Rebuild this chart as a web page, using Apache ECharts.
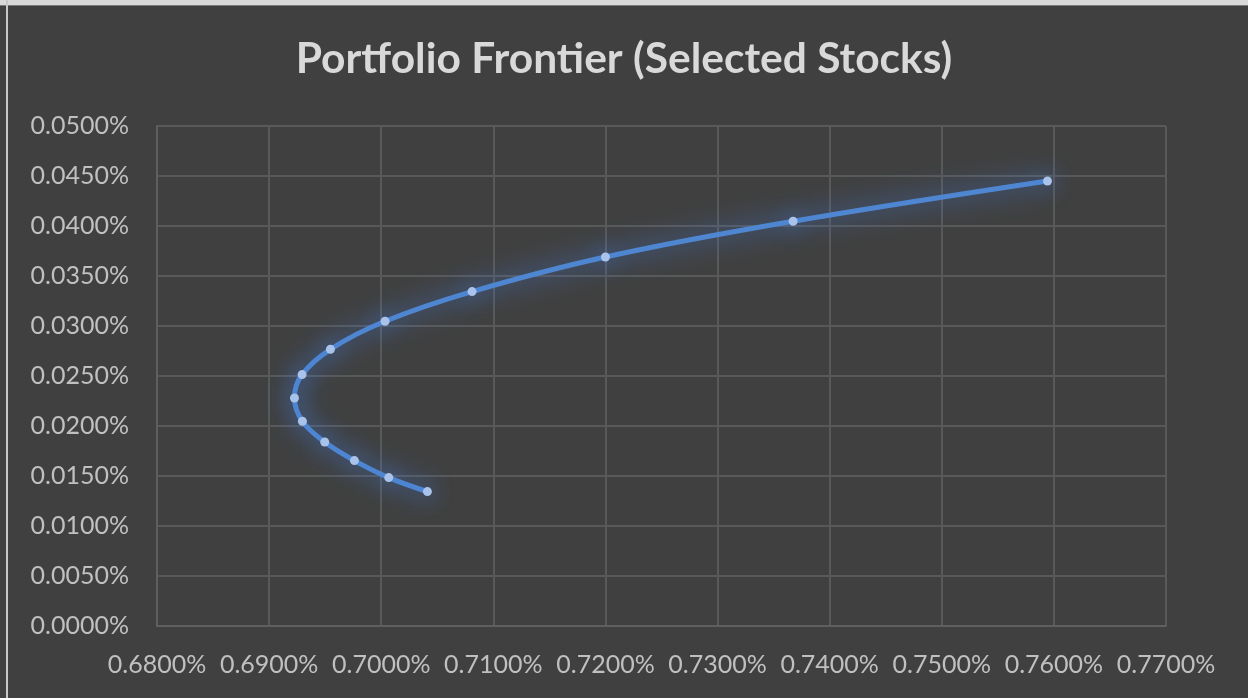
<!DOCTYPE html>
<html>
<head>
<meta charset="utf-8">
<script src="https://cdn.jsdelivr.net/npm/echarts@6/dist/echarts.min.js"></script>
<style>
  html, body { margin: 0; padding: 0; background: #404040; }
  #chart { position: absolute; left: 0; top: 0; width: 1248px; height: 698px; }
  #topStrip { position: absolute; left: 0; top: 0; width: 1248px; height: 5px; background: #d9d9d9; border-bottom: 1px solid #7a7a7a; z-index: 2; }
  #leftStrip { position: absolute; left: 6px; top: 0; width: 2px; height: 698px; background: #c8c8c8; z-index: 2; }
</style>
</head>
<body>
<div id="chart"></div>
<div id="topStrip"></div>
<div id="leftStrip"></div>
<script>
// Portfolio risk (std dev, %) and expected return (%)
const risk = [0.70412, 0.70067, 0.69761, 0.69496, 0.69297, 0.69226, 0.69294, 0.69547, 0.70034, 0.70810, 0.72000, 0.73674, 0.75943];
const ret  = [0.01344, 0.01484, 0.01654, 0.01840, 0.02047, 0.02280, 0.02514, 0.02767, 0.03047, 0.03344, 0.03690, 0.04047, 0.04450];
const title = 'Portfolio Frontier (Selected Stocks)';
const xMin = 0.68, xMax = 0.77, xStep = 0.01;
const yMin = 0, yMax = 0.05, yStep = 0.005;

const points = risk.map((r, i) => [r, ret[i]]);
const chart = echarts.init(document.getElementById('chart'), null, { renderer: 'canvas' });
const labelFont = { color: '#c0c0c0', fontSize: 25, fontFamily: 'Lato, "Open Sans", sans-serif' };
chart.setOption({
  backgroundColor: '#404040',
  animation: false,
  title: {
    text: title,
    left: 'center',
    top: 33,
    textStyle: { color: '#d9d9d9', fontSize: 42.5, fontWeight: 'bold', fontFamily: 'Lato, "Open Sans", sans-serif' }
  },
  grid: { left: 157, right: 82, top: 126, bottom: 72, containLabel: false },
  xAxis: {
    type: 'value', min: xMin, max: xMax, interval: xStep,
    axisLine: { show: true, lineStyle: { color: '#5f5f5f', width: 2 } },
    axisTick: { show: false },
    splitLine: { show: true, lineStyle: { color: '#595959', width: 2 } },
    axisLabel: Object.assign({ margin: 26, formatter: v => v.toFixed(4) + '%' }, labelFont)
  },
  yAxis: {
    type: 'value', min: yMin, max: yMax, interval: yStep,
    axisLine: { show: true, lineStyle: { color: '#5f5f5f', width: 2 } },
    axisTick: { show: false },
    splitLine: { show: true, lineStyle: { color: '#595959', width: 2 } },
    axisLabel: Object.assign({ margin: 28, formatter: v => v.toFixed(4) + '%' }, labelFont)
  },
  series: [{
    type: 'line',
    data: points,
    smooth: 0.35,
    symbol: 'circle',
    symbolSize: 9,
    lineStyle: { color: '#4f86d1', width: 5, shadowColor: 'rgba(70,130,230,1)', shadowBlur: 26 },
    itemStyle: { color: '#a9c3ea', borderWidth: 0, shadowColor: 'rgba(70,130,230,1)', shadowBlur: 22 }
  }]
});
</script>
</body>
</html>
